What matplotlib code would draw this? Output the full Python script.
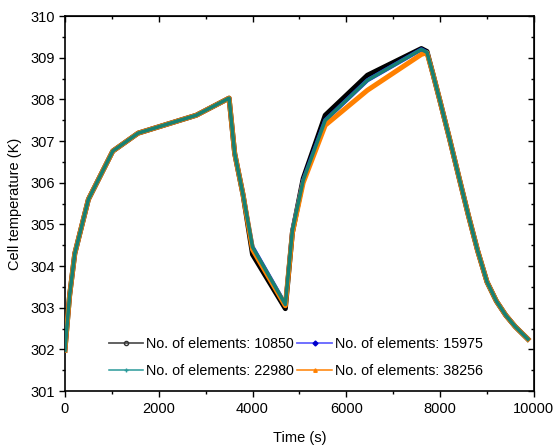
import matplotlib
matplotlib.use("Agg")
import matplotlib.pyplot as plt
from matplotlib.lines import Line2D
from matplotlib.ticker import MultipleLocator

plt.rcParams["font.family"] = ["Liberation Sans", "DejaVu Sans"]

# time grid (s)
time_s = [0, 100, 210, 500, 1020, 1560, 2800, 3500, 3620, 3800, 4000, 4700,
          4850, 5080, 5550, 6450, 7600, 7720, 7850, 8000, 8200, 8400, 8600,
          8800, 9000, 9200, 9400, 9600, 9870]

temp_10850 = [301.98, 303.3, 304.3, 305.6, 306.76, 307.19, 307.62, 308.03,
              306.7, 305.7, 304.28, 302.98, 304.8, 306.1, 307.62, 308.58,
              309.22, 309.15, 308.6, 307.95, 307.06, 306.14, 305.23, 304.37,
              303.62, 303.16, 302.82, 302.55, 302.25]
temp_15975 = [301.98, 303.3, 304.3, 305.6, 306.76, 307.19, 307.62, 308.03,
              306.7, 305.7, 304.46, 303.08, 304.86, 306.06, 307.5, 308.46,
              309.2, 309.13, 308.6, 307.95, 307.06, 306.14, 305.23, 304.37,
              303.62, 303.16, 302.82, 302.55, 302.25]
temp_22980 = [301.98, 303.3, 304.3, 305.6, 306.76, 307.19, 307.62, 308.03,
              306.7, 305.7, 304.46, 303.08, 304.86, 306.06, 307.5, 308.46,
              309.2, 309.13, 308.6, 307.95, 307.06, 306.14, 305.23, 304.37,
              303.62, 303.16, 302.82, 302.55, 302.25]
temp_38256 = [301.98, 303.3, 304.3, 305.6, 306.76, 307.19, 307.62, 308.03,
              306.7, 305.7, 304.4, 303.05, 304.8, 306.0, 307.38, 308.22,
              309.08, 309.12, 308.6, 307.95, 307.06, 306.14, 305.23, 304.37,
              303.62, 303.16, 302.82, 302.55, 302.25]

labels = ["No. of elements: 10850", "No. of elements: 15975",
          "No. of elements: 22980", "No. of elements: 38256"]

fig = plt.figure(figsize=(5.55, 4.46), dpi=100)
ax = fig.add_axes([0.117, 0.123, 0.845, 0.841])

ax.plot(time_s, temp_10850, color="#000000", lw=3.6, zorder=2)
ax.plot(time_s, temp_15975, color="#2020ff", lw=3.0, zorder=3)
ax.plot(time_s, temp_38256, color="#ff8000", lw=3.6, zorder=4)
ax.plot(time_s, temp_22980, color="#178073", lw=2.6, zorder=5)

ax.set_xlim(0, 10000)
ax.set_ylim(301, 310)
ax.xaxis.set_major_locator(MultipleLocator(2000))
ax.xaxis.set_minor_locator(MultipleLocator(1000))
ax.yaxis.set_major_locator(MultipleLocator(1))
ax.yaxis.set_minor_locator(MultipleLocator(0.5))
ax.tick_params(axis="both", which="both", direction="out", labelsize=10.5,
               width=1.0)
ax.tick_params(which="major", length=4)
ax.tick_params(which="minor", length=2.5)
for sp in ax.spines.values():
    sp.set_linewidth(1.2)

# inward ticks on top and right, no labels
top = ax.secondary_xaxis("top")
top.xaxis.set_major_locator(MultipleLocator(2000))
top.xaxis.set_minor_locator(MultipleLocator(1000))
top.tick_params(which="both", direction="in", labeltop=False, width=1.0)
top.tick_params(which="major", length=4)
top.tick_params(which="minor", length=2.5)
right = ax.secondary_yaxis("right")
right.yaxis.set_major_locator(MultipleLocator(1))
right.yaxis.set_minor_locator(MultipleLocator(0.5))
right.tick_params(which="both", direction="in", labelright=False, width=1.0)
right.tick_params(which="major", length=4)
right.tick_params(which="minor", length=2.5)

ax.set_xlabel("Time (s)", fontsize=10.5, labelpad=11)
ax.set_ylabel("Cell temperature (K)", fontsize=10.5, labelpad=6)

h10850 = Line2D([], [], color="#555555", lw=1.3, marker="o", markersize=3,
                markerfacecolor="none", markeredgecolor="#333333")
h15975 = Line2D([], [], color="#6464ff", lw=1.3, marker="D", markersize=2.5,
                markerfacecolor="#0000cc", markeredgecolor="#0000cc")
h22980 = Line2D([], [], color="#2a9a9a", lw=1.1, marker="+", markersize=3)
h38256 = Line2D([], [], color="#ff8000", lw=1.1, marker="^", markersize=2.5)
# ncol=2 fills by column, so order as 10850, 22980 | 15975, 38256
ax.legend([h10850, h22980, h15975, h38256],
          [labels[0], labels[2], labels[1], labels[3]],
          ncol=2, loc="lower center", bbox_to_anchor=(0.492, 0.02),
          frameon=False, fontsize=10.3, handlelength=2.4, handletextpad=0.2,
          columnspacing=0.25, labelspacing=0.9, borderaxespad=0)

fig.savefig("out.png", dpi=100)
